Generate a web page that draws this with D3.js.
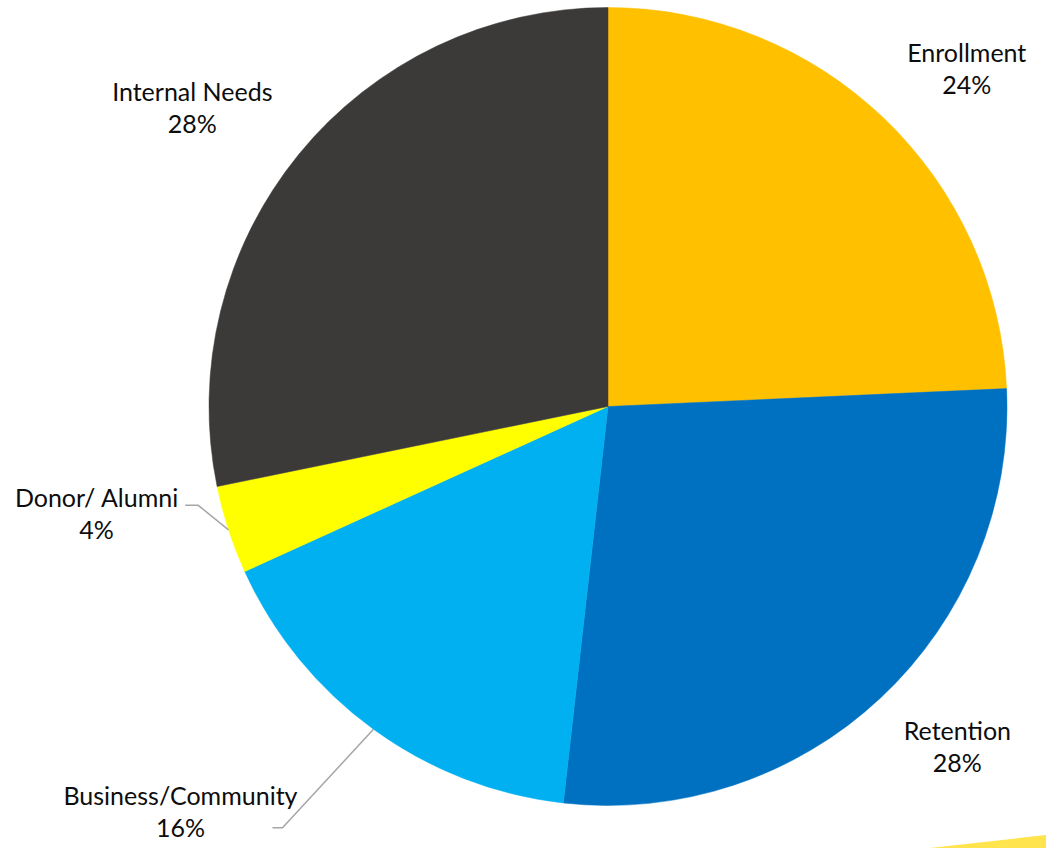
<!DOCTYPE html>
<html>
<head>
<meta charset="utf-8">
<script src="https://cdn.jsdelivr.net/npm/d3@7"></script>
<style>
  html, body { margin: 0; padding: 0; background: #fff; }
  svg { display: block; }
</style>
</head>
<body>
<div id="chart"></div>
<script>
// Survey responses by category (counts)
const categories = ["Enrollment", "Retention", "Business/Community", "Donor/ Alumni", "Internal Needs"];
const counts = [68, 77, 46, 10, 79];
const colors = ["#FFC000", "#0070C0", "#00B0F0", "#FFFF00", "#3B3A39"];

const width = 1046;
const height = 848;
const cx = 608, cy = 406.5;
const radius = 399;
const labelDist = 433;   // where the label box corner sits along the mid angle
const fontSize = 25;
const capH = 17.5;
const lineGap = 32;

// labels that were dragged away from their default spot (with leader lines)
const labelShift = {
  "Donor/ Alumni": { dx: -18, dy: -51, end: [7, 16], elbow: 13 },
  "Business/Community": { dx: -56, dy: 31, end: [-25, 40], elbow: 10 }
};

const total = d3.sum(counts);
const data = categories.map((c, i) => ({ name: c, value: counts[i], color: colors[i] }));

const svg = d3.select("#chart")
  .append("svg")
  .attr("width", width)
  .attr("height", height);

// decorative yellow swoosh in the corner
svg.append("path")
  .attr("d", `M930,${height} L${width},835 L${width},${height} Z`)
  .attr("fill", "#FFE44D");

const pie = d3.pie().sort(null).value(d => d.value);
const arcs = pie(data);

const arc = d3.arc().innerRadius(0).outerRadius(radius);

const g = svg.append("g").attr("transform", `translate(${cx},${cy})`);

g.selectAll("path.slice")
  .data(arcs)
  .join("path")
  .attr("class", "slice")
  .attr("d", arc)
  .attr("fill", d => d.data.color)
  .attr("stroke", d => d.data.color)
  .attr("stroke-width", 0.5);

// Labels
arcs.forEach(d => {
  const mid = (d.startAngle + d.endAngle) / 2;
  const sx = Math.sin(mid), sy = -Math.cos(mid);
  const px = cx + labelDist * sx;
  const py = cy + labelDist * sy;
  const pct = Math.round(d.data.value / total * 100 + 1e-9) + "%";

  const lab = svg.append("text")
    .attr("text-anchor", "middle")
    .style("font-family", "Lato, 'Open Sans', sans-serif")
    .style("font-size", fontSize + "px")
    .style("fill", "#0d0d0d");

  const t1 = lab.append("tspan").text(d.data.name);
  const t2 = lab.append("tspan").text(pct);
  const w = Math.max(t1.node().getComputedTextLength(), t2.node().getComputedTextLength());
  const h = capH + lineGap;

  let left = sx > 0 ? px : px - w;
  let top = sy < 0 ? py - h : py;
  const shift = labelShift[d.data.name];
  if (shift) { left += shift.dx; top += shift.dy; }

  const xc = left + w / 2;
  t1.attr("x", xc).attr("y", top + capH);
  t2.attr("x", xc).attr("y", top + capH + lineGap);

  if (shift) {
    const ax = cx + radius * sx, ay = cy + radius * sy;
    const ex = left + w + shift.end[0], ey = top + shift.end[1];
    svg.insert("path", "text")
      .attr("d", `M${ax},${ay} L${ex + shift.elbow},${ey} L${ex},${ey}`)
      .attr("fill", "none")
      .attr("stroke", "#A6A6A6")
      .attr("stroke-width", 1.5);
  }
});
</script>
</body>
</html>
